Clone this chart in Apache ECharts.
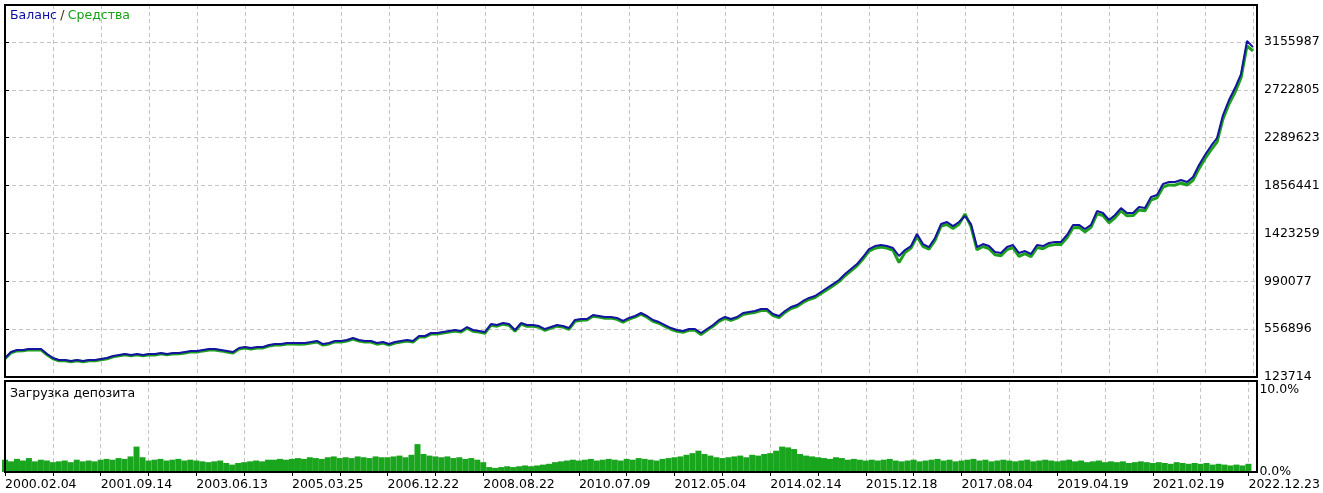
<!DOCTYPE html>
<html>
<head>
<meta charset="utf-8">
<script src="https://cdn.jsdelivr.net/npm/echarts@6/dist/echarts.min.js"></script>
<style>
html,body{margin:0;padding:0;background:#fff;}
#chart{width:1323px;height:493px;}
</style>
</head>
<body>
<div id="chart"></div>
<script>
// Tick labels
const yTickLabels = ['123714','556896','990077','1423259','1856441','2289623','2722805','3155987'];
const dateLabels = ['2000.02.04','2001.09.14','2003.06.13','2005.03.25','2006.12.22','2008.08.22','2010.07.09','2012.05.04','2014.02.14','2015.12.18','2017.08.04','2019.04.19','2021.02.19','2022.12.23'];
const loadTickLabels = ['0.0%','10.0%'];

// Balance (index = test step)
const balance = [
296000,350000,368000,368000,377000,377000,377000,332000,296000,278000,
278000,268000,278000,268000,278000,278000,287000,296000,314000,323000,
332000,323000,332000,323000,332000,332000,341000,332000,341000,341000,
350000,359000,359000,368000,377000,377000,368000,359000,350000,386000,
395000,386000,395000,395000,413000,422000,422000,431000,431000,431000,
431000,440000,450000,422000,431000,450000,450000,459000,477000,459000,
450000,450000,431000,440000,422000,440000,450000,459000,450000,495000,
495000,522000,522000,531000,540000,549000,540000,576000,549000,540000,
531000,603000,594000,612000,603000,549000,612000,594000,594000,585000,
558000,576000,594000,585000,567000,640000,649000,649000,685000,676000,
667000,667000,658000,631000,658000,676000,703000,676000,640000,621000,
594000,567000,549000,540000,558000,558000,522000,558000,594000,640000,
667000,649000,667000,703000,712000,721000,739000,739000,694000,676000,
721000,757000,775000,812000,839000,857000,893000,929000,965000,1002000,
1056000,1101000,1146000,1210000,1282000,1309000,1318000,1309000,1291000,1219000,
1273000,1309000,1418000,1327000,1300000,1382000,1508000,1527000,1490000,1527000,
1581000,1508000,1300000,1327000,1309000,1255000,1246000,1300000,1318000,1246000,
1264000,1237000,1318000,1309000,1337000,1346000,1346000,1409000,1500000,1500000,
1463000,1500000,1626000,1608000,1545000,1590000,1653000,1608000,1608000,1662000,
1653000,1753000,1771000,1871000,1889000,1889000,1907000,1889000,1934000,2043000,
2133000,2215000,2287000,2495000,2631000,2739000,2866000,3165000,3110000
];

// Equity
const equity = [
290000,343000,360000,362000,370000,368000,370000,325000,288000,271000,
270000,262000,270000,261000,271000,270000,279000,289000,306000,315000,
325000,315000,324000,316000,325000,323000,333000,325000,333000,334000,
341000,351000,350000,360000,369000,368000,360000,350000,341000,378000,
386000,378000,386000,387000,404000,413000,414000,422000,423000,421000,
423000,431000,441000,412000,423000,441000,440000,450000,468000,450000,
441000,440000,421000,431000,412000,431000,441000,450000,440000,485000,
486000,512000,513000,521000,530000,540000,530000,566000,538000,531000,
520000,593000,584000,602000,592000,538000,602000,583000,585000,574000,
546000,566000,584000,575000,556000,628000,638000,639000,673000,666000,
655000,657000,646000,620000,647000,665000,692000,665000,628000,610000,
582000,556000,537000,528000,546000,547000,508000,546000,582000,628000,
655000,637000,656000,690000,700000,708000,726000,727000,680000,662000,
708000,744000,762000,798000,825000,843000,879000,914000,950000,987000,
1040000,1085000,1130000,1192000,1264000,1290000,1300000,1291000,1270000,1160000,
1250000,1290000,1395000,1305000,1280000,1360000,1488000,1505000,1468000,1506000,
1600000,1485000,1275000,1305000,1285000,1230000,1222000,1276000,1295000,1215000,
1240000,1212000,1295000,1285000,1314000,1322000,1324000,1385000,1475000,1478000,
1438000,1478000,1600000,1585000,1520000,1565000,1628000,1583000,1585000,1636000,
1628000,1726000,1745000,1842000,1862000,1860000,1880000,1862000,1905000,2010000,
2100000,2180000,2250000,2460000,2595000,2700000,2830000,3120000,3075000
];

// Deposit load, %
const depositLoad = [
1.5,1.3,1.6,1.4,1.7,1.3,1.5,1.4,1.2,
1.3,1.4,1.2,1.5,1.3,1.4,1.3,1.5,
1.6,1.5,1.7,1.6,1.9,3.1,1.8,1.4,
1.5,1.6,1.4,1.5,1.6,1.4,1.5,1.4,
1.3,1.2,1.3,1.4,1.1,0.9,1.1,1.2,
1.3,1.4,1.3,1.5,1.5,1.6,1.5,1.6,
1.7,1.6,1.8,1.7,1.6,1.8,1.9,1.7,
1.8,1.7,1.9,1.8,1.7,1.9,1.8,1.8,
1.9,2.0,1.8,2.1,3.4,2.2,2.0,1.9,
1.8,1.9,1.7,1.8,1.6,1.7,1.5,1.2,
0.6,0.5,0.6,0.7,0.6,0.7,0.8,0.7,
0.8,0.9,1.0,1.2,1.3,1.4,1.5,1.4,
1.5,1.6,1.4,1.5,1.6,1.5,1.4,1.6,
1.5,1.7,1.6,1.5,1.4,1.6,1.7,1.8,
1.9,2.1,2.3,2.6,2.2,2.0,1.8,1.7,
1.8,1.9,2.0,1.8,2.1,2.0,2.2,2.3,
2.6,3.1,3.0,2.8,2.2,2.0,1.9,1.8,
1.7,1.6,1.8,1.7,1.5,1.6,1.5,1.4,
1.5,1.4,1.5,1.6,1.4,1.3,1.4,1.5,
1.3,1.4,1.5,1.6,1.4,1.5,1.3,1.4,
1.5,1.6,1.4,1.5,1.3,1.4,1.5,1.4,
1.3,1.4,1.5,1.3,1.4,1.5,1.4,1.3,
1.4,1.5,1.3,1.4,1.2,1.3,1.4,1.2,
1.3,1.2,1.3,1.1,1.2,1.3,1.2,1.1,
1.2,1.1,1.0,1.2,1.1,1.0,1.1,1.0,
1.1,0.9,1.0,0.9,0.8,0.9,0.8,1.0
];

const FONT = 'DejaVu Sans';
const FS = 12.5;
const Y_MIN = 123714;
const Y_STEP = (3155987 - 123714) / 7;
const STEPS_PER_TICK = 8;
const LAST = balance.length - 1;
const X_MAX = LAST + 4 / 6;

const chart = echarts.init(document.getElementById('chart'), null, {renderer: 'canvas'});

const splitDash = {show: true, showMinLine: false, showMaxLine: false, lineStyle: {color: '#c4c4c4', type: [4, 3], width: 1}};

function xAxisCfg(gridIndex, showLabels) {
  return {
    type: 'value', gridIndex: gridIndex, min: 0, max: X_MAX, interval: STEPS_PER_TICK,
    axisLine: {show: false},
    axisTick: {show: showLabels, length: 4, lineStyle: {color: '#000'}},
    splitLine: splitDash,
    axisLabel: {
      show: showLabels, align: 'left', margin: 6, color: '#000', fontFamily: FONT, fontSize: FS,
      showMaxLabel: false,
      formatter: function (v) {
        const k = v / (STEPS_PER_TICK * 2);
        if (Math.abs(k - Math.round(k)) < 1e-6 && dateLabels[Math.round(k)]) return dateLabels[Math.round(k)];
        return '';
      }
    }
  };
}

chart.setOption({
  animation: false,
  backgroundColor: '#fff',
  grid: [
    {left: 5, top: 5, width: 1252, height: 372, show: false},
    {left: 5, top: 381, width: 1252, height: 91, show: false}
  ],
  graphic: [
    {type: 'rect', z: 100, silent: true, shape: {x: 5, y: 5, width: 1252, height: 372}, style: {fill: null, stroke: '#000', lineWidth: 2}},
    {type: 'rect', z: 100, silent: true, shape: {x: 5, y: 381, width: 1252, height: 91}, style: {fill: null, stroke: '#000', lineWidth: 2}},
    {type: 'text', z: 100, left: 10, top: 9, style: {
      text: '{a|Баланс} {s|/} {b|Средства}',
      rich: {
        a: {fill: '#0c0ca0', fontFamily: FONT, fontSize: FS},
        s: {fill: '#3a2a10', fontFamily: FONT, fontSize: FS},
        b: {fill: '#16a016', fontFamily: FONT, fontSize: FS}
      }
    }},
    {type: 'text', z: 100, left: 10, top: 387, style: {text: 'Загрузка депозита', fill: '#000', fontFamily: FONT, fontSize: FS}}
  ],
  xAxis: [xAxisCfg(0, false), xAxisCfg(1, true)],
  yAxis: [
    {
      type: 'value', gridIndex: 0, position: 'right', min: Y_MIN, max: 3490894, interval: Y_STEP,
      axisLine: {show: false},
      axisTick: {show: true, length: 4, lineStyle: {color: '#000'}},
      splitLine: splitDash,
      axisLabel: {
        color: '#000', fontFamily: FONT, fontSize: FS, margin: 7, showMaxLabel: false,
        formatter: function (v) {
          const k = (v - Y_MIN) / Y_STEP;
          if (Math.abs(k - Math.round(k)) < 1e-4 && yTickLabels[Math.round(k)]) return yTickLabels[Math.round(k)];
          return '';
        }
      }
    },
    {
      type: 'value', gridIndex: 1, position: 'right', min: 0, max: 11.1, interval: 10,
      axisLine: {show: false}, axisTick: {show: false}, splitLine: {show: false},
      axisLabel: {
        color: '#000', fontFamily: FONT, fontSize: FS, margin: 7, showMaxLabel: false,
        formatter: function (v) {
          if (v === 0) return loadTickLabels[0];
          if (v === 10) return loadTickLabels[1];
          return '';
        }
      }
    }
  ],
  series: [
    {
      name: 'Средства', type: 'line', xAxisIndex: 0, yAxisIndex: 0,
      data: equity.map((v, i) => [i, v]),
      showSymbol: false, lineStyle: {color: '#1ea01e', width: 3}, z: 2
    },
    {
      name: 'Баланс', type: 'line', xAxisIndex: 0, yAxisIndex: 0,
      data: balance.map((v, i) => [i, v]),
      showSymbol: false, lineStyle: {color: '#1414a0', width: 2}, z: 3
    },
    {
      name: 'Загрузка депозита', type: 'bar', xAxisIndex: 1, yAxisIndex: 1,
      data: depositLoad.map((v, i) => [i, v]),
      barWidth: 6, itemStyle: {color: '#1aa51e'}, z: 2
    }
  ]
});
</script>
</body>
</html>
